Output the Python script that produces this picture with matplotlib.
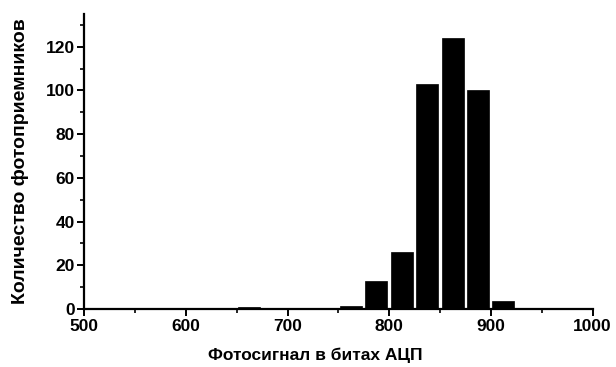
import numpy as np
import matplotlib
matplotlib.use('Agg')
import matplotlib.pyplot as plt
from matplotlib.ticker import MultipleLocator

# histogram bins (left edges, width 25) and counts
bin_left = [650, 750, 775, 800, 825, 850, 875, 900, 925]
counts = [0.7, 1.5, 13, 26, 103, 124, 100, 3.5, 0.6]
bin_width = 25

x_label = 'Фотосигнал в битах АЦП'
y_label = 'Количество фотоприемников'

plt.rcParams['font.family'] = ['Liberation Sans', 'DejaVu Sans']

fig = plt.figure(figsize=(6.16, 3.67), dpi=100)
ax = fig.add_axes([0.137, 0.158, 0.825, 0.804])

# bars drawn slightly narrower than the bin, leaving a small white gap
ax.bar(np.array(bin_left) + 1.5, counts, width=bin_width * 0.86,
       align='edge', color='black', edgecolor='black', linewidth=0.5)

ax.set_xlim(500, 1000)
ax.set_ylim(0, 135)

ax.xaxis.set_major_locator(MultipleLocator(100))
ax.xaxis.set_minor_locator(MultipleLocator(50))
ax.yaxis.set_major_locator(MultipleLocator(20))
ax.yaxis.set_minor_locator(MultipleLocator(10))

for side in ['top', 'right']:
    ax.spines[side].set_visible(False)
for side in ['left', 'bottom']:
    ax.spines[side].set_linewidth(1.6)

ax.tick_params(which='major', direction='out', length=5, width=1.4,
               labelsize=12.5, pad=2)
ax.tick_params(which='minor', direction='out', length=3, width=1.2)
for lbl in ax.get_xticklabels() + ax.get_yticklabels():
    lbl.set_fontweight('bold')

ax.set_xlabel(x_label, fontsize=12.5, fontweight='bold', labelpad=9)
ax.xaxis.set_label_coords(0.455, -0.13)
ax.set_ylabel(y_label, fontsize=14, fontweight='bold', labelpad=12)

fig.savefig('out.png', dpi=100)
